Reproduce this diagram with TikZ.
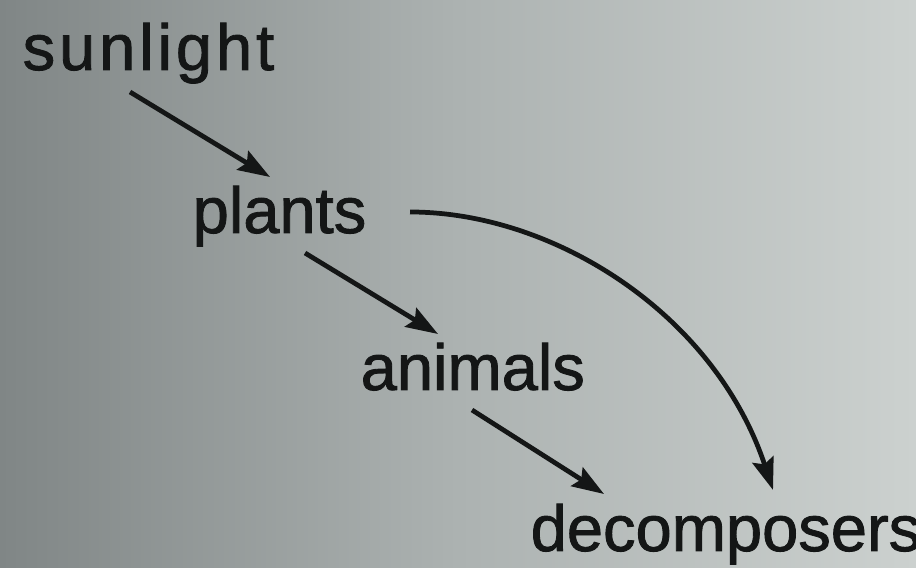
\documentclass[tikz,border=0pt]{standalone}
\usepackage{fontspec}
\setmainfont{Liberation Sans}
\newfontfamily\lblfont[FakeBold=1.3]{Liberation Sans}
\usetikzlibrary{arrows.meta,calc}
\definecolor{bgL}{RGB}{128,134,134}
\definecolor{bgM}{RGB}{172,178,177}
\definecolor{bgR}{RGB}{204,209,207}
\definecolor{ink}{RGB}{20,22,22}
\tikzset{
  lbl/.style={anchor=base west, inner sep=0pt, text=ink, font=\lblfont\fontsize{18.5}{20}\selectfont},
  arr/.style={draw=ink, line width=1.35pt, -{Stealth[length=0.32cm, width=0.22cm, inset=0.05cm]}}
}
\begin{document}
\begin{tikzpicture}[x=0.01cm, y=-0.01cm]
\useasboundingbox (0,0) rectangle (916,568);
\shade[left color=bgL, right color=bgR, middle color=bgM] (0,0) rectangle (916,568);
\node[lbl] (sun) at (22,70) {\addfontfeature{LetterSpace=6}sunlight};
\node[lbl] (pla) at (192,233) {plants};
\node[lbl] (ani) at (360,390) {animals};
\node[lbl] (dec) at (530,551) {decomposers};
\draw[arr] ($(sun.base west)+(108,22)$) -- ($(pla.base west)+(78,-56)$);
\draw[arr] ($(pla.base west)+(113,20)$) -- ($(ani.base west)+(78,-56)$);
\draw[arr] ($(ani.base west)+(112,20)$) -- ($(dec.base west)+(74,-57)$);
\draw[arr] ($(pla.base west)+(218,-21)$) .. controls (555,212) and (715,315) .. ($(dec.base west)+(243,-61)$);
\end{tikzpicture}
\end{document}
